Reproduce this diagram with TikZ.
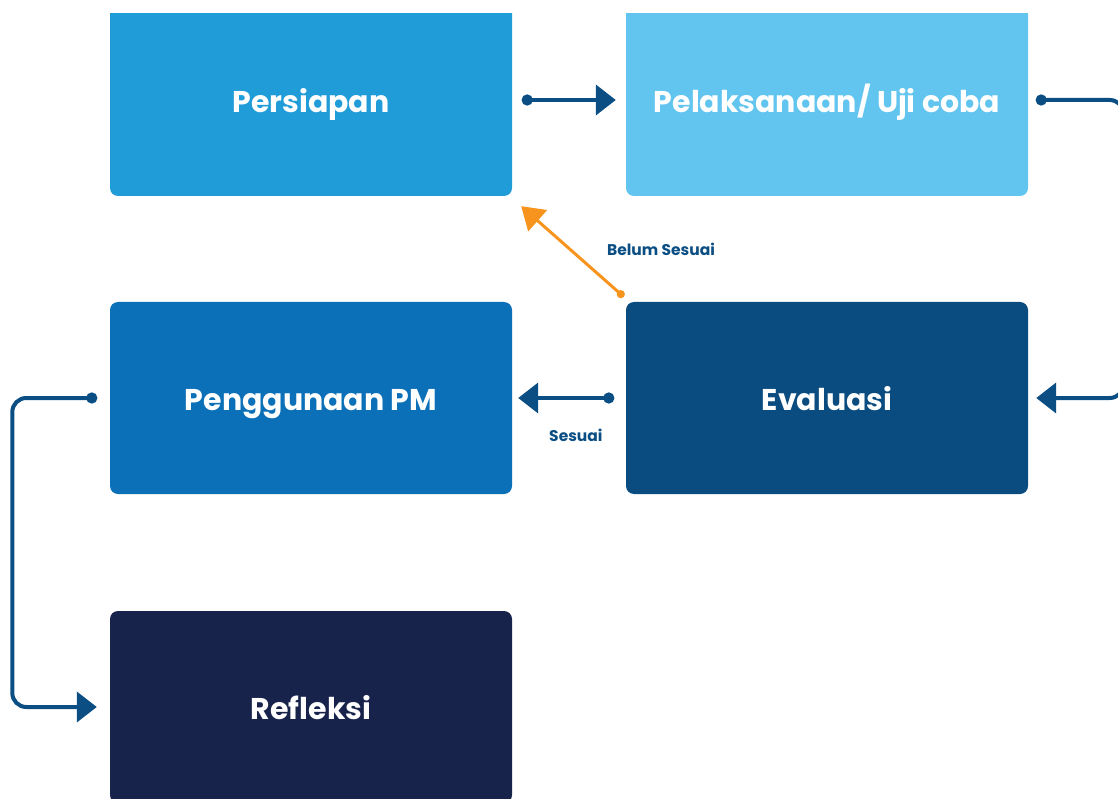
\documentclass[tikz,border=0pt]{standalone}
\usepackage{fontspec}
\setmainfont{Poppins}
\usetikzlibrary{arrows.meta}
\definecolor{prepblue}{HTML}{209CD9}
\definecolor{trialblue}{HTML}{62C5EF}
\definecolor{useblue}{HTML}{0C70B8}
\definecolor{evalblue}{HTML}{0A4C80}
\definecolor{reflnavy}{HTML}{17234B}
\definecolor{linkblue}{HTML}{0B4E84}
\definecolor{backorange}{HTML}{F7941E}
\begin{document}
\begin{tikzpicture}[x=1pt,y=-1pt,
    stage/.style={rounded corners=8pt, minimum width=402pt, minimum height=192pt,
      inner sep=0pt, text=white, text height=25pt, text depth=0pt,
      font=\bfseries\fontsize{30}{34}\selectfont},
    link/.style={line width=4pt, draw=linkblue,
      {Circle[length=11pt]}-{Triangle[length=20pt,width=30pt]}},
    backlink/.style={line width=3pt, draw=backorange,
      {Circle[length=8pt]}-{Triangle[length=22pt,width=28pt]}},
    tag/.style={font=\bfseries\fontsize{15.5}{18}\selectfont, text=linkblue}]
    \useasboundingbox (0,0) rectangle (1118,799);
    \clip (0,14) rectangle (1118,799);
    % stages
    \node [stage, fill=prepblue] (prep) at (311,100) {Persiapan};
    \node [stage, fill=trialblue] (trial) at (827,100) {Pelaksanaan/ Uji coba};
    \node [stage, fill=useblue] (use) at (311,398) {Penggunaan PM};
    \node [stage, fill=evalblue] (eval) at (827,398) {Evaluasi};
    \node [stage, fill=reflnavy] (refl) at (311,707) {Refleksi};
    % connectors
    \draw [link] ([xshift=9.5pt]prep.east) -- ([xshift=-10pt]trial.west);
    \draw [link, rounded corners=14pt] ([xshift=7.5pt]trial.east) -- ++(88,0)
        |- ([xshift=8pt]eval.east);
    \draw [link] ([xshift=-11.5pt]eval.west) -- ([xshift=6pt]use.east)
        node [tag, pos=0.4, below=26pt] (ok) {Sesuai};
    \draw [backlink] ([xshift=-2pt,yshift=5pt]eval.north west)
        -- ([xshift=9pt,yshift=-10pt]prep.south east);
    \node [tag] (notok) at (661,249) {Belum Sesuai};
    \draw [link, rounded corners=14pt] ([xshift=-12.5pt]use.west) -- ++(-85,0)
        |- ([xshift=-13pt]refl.west);
\end{tikzpicture}
\end{document}
